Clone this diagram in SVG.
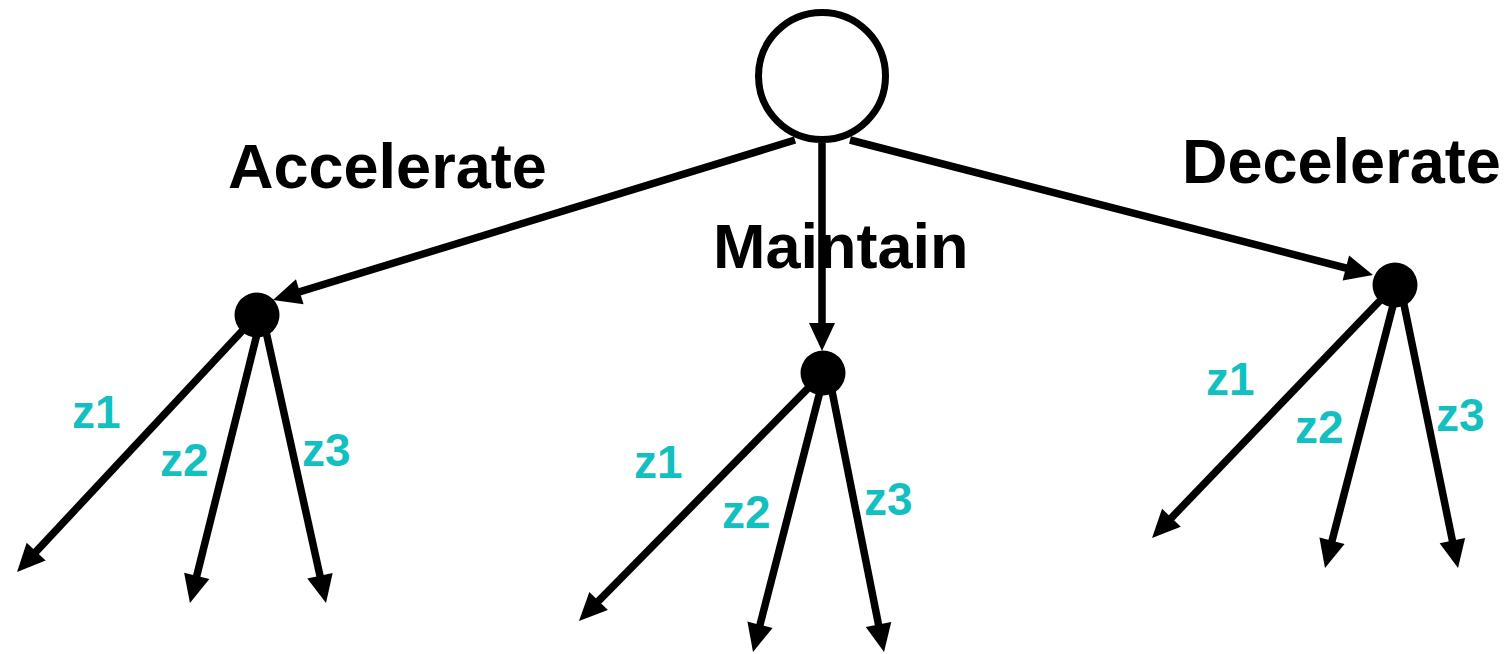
<svg xmlns="http://www.w3.org/2000/svg" width="1510" height="654" viewBox="0 0 1510 654">
  <style>
    .edge { stroke: #000; stroke-width: 7.5; fill: none; marker-end: url(#head); }
    .action { font-family: "Liberation Sans", Arial, sans-serif; font-weight: bold; font-size: 63px; fill: #000; }
    .obs { font-family: "Liberation Sans", Arial, sans-serif; font-weight: bold; font-size: 46px; fill: #12C0C0; }
    .root { fill: #fff; stroke: #000; stroke-width: 7; }
    .dot { fill: #000; }
  </style>
  <defs>
    <marker id="head" markerUnits="userSpaceOnUse" viewBox="-9 -14 30 28" markerWidth="30" markerHeight="28" refX="0" refY="0" orient="auto" overflow="visible">
      <path d="M20,0 L-8,-13 L-8,13 Z" fill="#000"/>
    </marker>
  </defs>

  <!-- connectors -->
  <g id="connectors">
    <!-- actions from the root -->
    <line class="edge" x1="795" y1="140" x2="292.1" y2="294.1"/>
    <line class="edge" x1="822" y1="143" x2="822" y2="331"/>
    <line class="edge" x1="850" y1="140" x2="1353.6" y2="270"/>
    <!-- observations after Accelerate -->
    <line class="edge" x1="257" y1="315" x2="30.7" y2="557.4"/>
    <line class="edge" x1="261" y1="318" x2="194.8" y2="583.6"/>
    <line class="edge" x1="263" y1="318" x2="321.7" y2="583.5"/>
    <!-- observations after Maintain -->
    <line class="edge" x1="823" y1="373" x2="593" y2="606.7"/>
    <line class="edge" x1="824" y1="376" x2="758" y2="632.6"/>
    <line class="edge" x1="829" y1="376" x2="880.1" y2="632.4"/>
    <!-- observations after Decelerate -->
    <line class="edge" x1="1395" y1="285" x2="1165.9" y2="523.6"/>
    <line class="edge" x1="1397" y1="290" x2="1330" y2="548.6"/>
    <line class="edge" x1="1401" y1="290" x2="1454" y2="548.4"/>
  </g>

  <g id="root">
    <circle class="root" cx="822" cy="76" r="63.5"/>
  </g>
  <g id="node-accelerate">
    <circle class="dot" cx="257" cy="315" r="22.5"/>
  </g>
  <g id="node-maintain">
    <circle class="dot" cx="823" cy="373" r="22.5"/>
  </g>
  <g id="node-decelerate">
    <circle class="dot" cx="1395" cy="285" r="22.5"/>
  </g>

  <!-- action labels -->
  <g id="action-labels">
    <text class="action" x="228" y="188">Accelerate</text>
    <text class="action" x="713" y="268">Maintain</text>
    <text class="action" x="1182" y="183">Decelerate</text>
  </g>

  <!-- observation labels -->
  <g id="observation-labels">
    <text class="obs" x="72" y="428">z1</text>
    <text class="obs" x="160" y="476">z2</text>
    <text class="obs" x="302" y="466">z3</text>
    <text class="obs" x="634" y="478">z1</text>
    <text class="obs" x="722" y="528">z2</text>
    <text class="obs" x="864" y="515">z3</text>
    <text class="obs" x="1206" y="395">z1</text>
    <text class="obs" x="1295" y="443">z2</text>
    <text class="obs" x="1436" y="431">z3</text>
  </g>
</svg>
